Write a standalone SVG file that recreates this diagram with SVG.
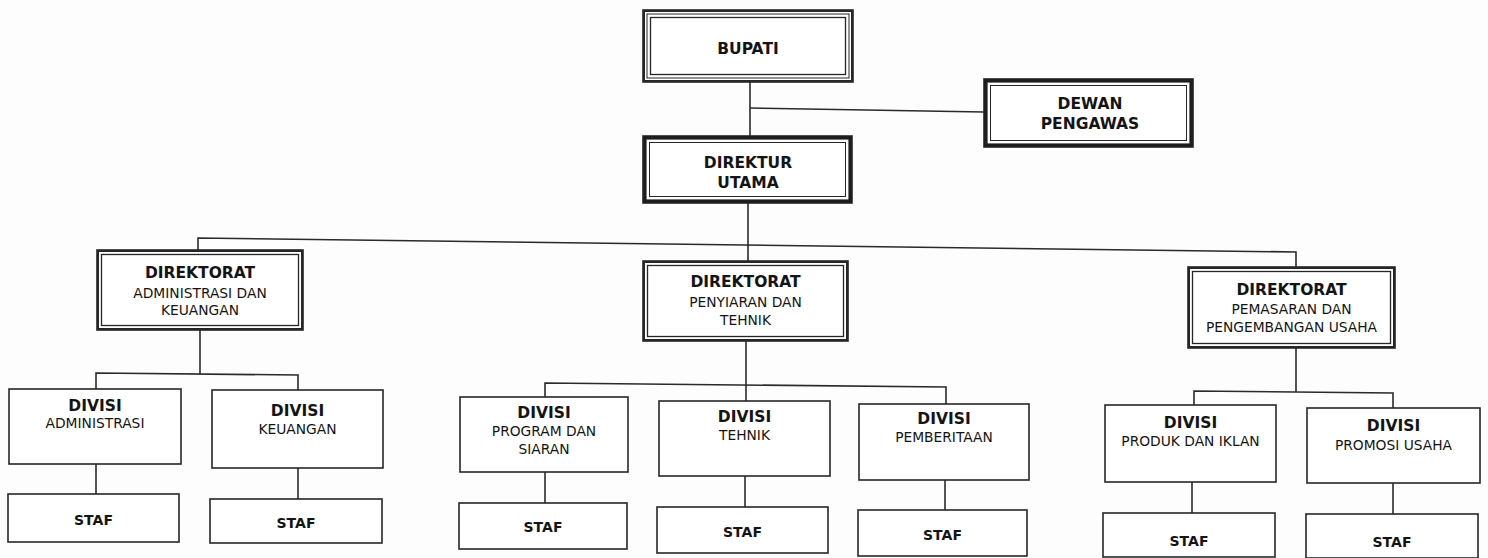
<svg xmlns="http://www.w3.org/2000/svg" width="1488" height="558" viewBox="0 0 1488 558">
<style>
.bg{fill:#fdfdfd}
.box{fill:#ffffff;stroke:#262626;stroke-width:1.6}
.thin{fill:none;stroke:#262626;stroke-width:1}
.med{fill:none;stroke:#262626;stroke-width:2}
.thick{fill:none;stroke:#1e1e1e;stroke-width:3.6}
.conn line,.conn polyline{stroke:#2a2a2a;stroke-width:1.6;fill:none}
text{font-family:"DejaVu Sans","Verdana",sans-serif;fill:#141414;text-anchor:middle}
.b{font-weight:bold;font-size:15.5px}
.r{font-size:13.8px}
.s{font-weight:bold;font-size:14px}
</style>
<rect class="bg" x="0" y="0" width="1488" height="558"/>
<g id="connectors" class="conn">
<line x1="750" y1="82" x2="750" y2="136"/>
<line x1="750" y1="108" x2="984" y2="112"/>
<line x1="748" y1="203" x2="748" y2="261"/>
<polyline points="198,250 198,238 1296,252 1296,267"/>
<line x1="200" y1="330" x2="200" y2="374"/>
<polyline points="96,389 96,373 298,375 298,390"/>
<line x1="96" y1="464" x2="96" y2="494"/>
<line x1="298" y1="468" x2="298" y2="499"/>
<line x1="746" y1="341" x2="746" y2="401"/>
<polyline points="545,397 545,383 946,387 946,404"/>
<line x1="545" y1="472" x2="545" y2="503"/>
<line x1="745" y1="476" x2="745" y2="507"/>
<line x1="945" y1="480" x2="945" y2="510"/>
<line x1="1296" y1="348" x2="1296" y2="392"/>
<polyline points="1194,405 1194,391 1393,393 1393,408"/>
<line x1="1192" y1="482" x2="1192" y2="513"/>
<line x1="1393" y1="483" x2="1393" y2="514"/>
</g>
<g id="bupati">
<rect class="box" x="643" y="10" width="210" height="72" stroke="none"/>
<rect class="med" x="644" y="11" width="208" height="70"/>
<rect class="thin" x="647" y="14" width="202" height="64"/>
<rect class="thin" x="650.5" y="17.5" width="195" height="57" style="stroke-width:1.3"/>
<text class="b" x="748" y="53.5">BUPATI</text>
</g>
<g id="dewan-pengawas">
<rect class="box" x="984" y="79" width="209" height="68" stroke="none"/>
<rect class="thick" x="985.8" y="80.8" width="205.4" height="64.4"/>
<rect class="thin" x="990.5" y="85.5" width="196" height="55"/>
<text class="b" x="1090" y="108.5">DEWAN</text>
<text class="b" x="1090" y="128.5">PENGAWAS</text>
</g>
<g id="direktur-utama">
<rect class="box" x="643" y="136" width="209" height="67" stroke="none"/>
<rect class="thick" x="644.8" y="137.8" width="205.4" height="63.4"/>
<rect class="thin" x="649.5" y="142.5" width="196" height="54"/>
<text class="b" x="748" y="167.5">DIREKTUR</text>
<text class="b" x="748" y="187.5">UTAMA</text>
</g>
<g id="direktorat-adm">
<rect class="box" x="97" y="250" width="206" height="80" stroke="none"/>
<rect class="med" x="98" y="251" width="204" height="78"/>
<rect class="thin" x="101.5" y="254.5" width="197" height="71" style="stroke-width:1.3"/>
<text class="b" x="200" y="278">DIREKTORAT</text>
<text class="r" x="200" y="298">ADMINISTRASI DAN</text>
<text class="r" x="200" y="315">KEUANGAN</text>
</g>
<g id="direktorat-penyiaran">
<rect class="box" x="643" y="261" width="205" height="80" stroke="none"/>
<rect class="med" x="644" y="262" width="203" height="78"/>
<rect class="thin" x="647.5" y="265.5" width="196" height="71" style="stroke-width:1.3"/>
<text class="b" x="745.5" y="287">DIREKTORAT</text>
<text class="r" x="745.5" y="307">PENYIARAN DAN</text>
<text class="r" x="745.5" y="325">TEHNIK</text>
</g>
<g id="direktorat-pemasaran">
<rect class="box" x="1188" y="267" width="207" height="81" stroke="none"/>
<rect class="med" x="1189" y="268" width="205" height="79"/>
<rect class="thin" x="1192.5" y="271.5" width="198" height="72" style="stroke-width:1.3"/>
<text class="b" x="1291.5" y="294.5">DIREKTORAT</text>
<text class="r" x="1291.5" y="314">PEMASARAN DAN</text>
<text class="r" x="1291.5" y="332">PENGEMBANGAN USAHA</text>
</g>
<g id="divisi-administrasi">
<rect class="box" x="9" y="389" width="172" height="75"/>
<text class="b" x="95" y="410.5">DIVISI</text>
<text class="r" x="95" y="428">ADMINISTRASI</text>
</g>
<g id="staf-administrasi">
<rect class="box" x="8" y="494" width="171" height="48"/>
<text class="s" x="93.5" y="525">STAF</text>
</g>
<g id="divisi-keuangan">
<rect class="box" x="212" y="390" width="171" height="78"/>
<text class="b" x="297.5" y="415.5">DIVISI</text>
<text class="r" x="297.5" y="434">KEUANGAN</text>
</g>
<g id="staf-keuangan">
<rect class="box" x="210" y="499" width="172" height="44"/>
<text class="s" x="296" y="528">STAF</text>
</g>
<g id="divisi-program">
<rect class="box" x="460" y="397" width="168" height="75"/>
<text class="b" x="544" y="418">DIVISI</text>
<text class="r" x="544" y="436">PROGRAM DAN</text>
<text class="r" x="544" y="454">SIARAN</text>
</g>
<g id="staf-program">
<rect class="box" x="459" y="503" width="168" height="46"/>
<text class="s" x="543" y="532">STAF</text>
</g>
<g id="divisi-tehnik">
<rect class="box" x="659" y="401" width="171" height="75"/>
<text class="b" x="744.5" y="422">DIVISI</text>
<text class="r" x="744.5" y="440">TEHNIK</text>
</g>
<g id="staf-tehnik">
<rect class="box" x="657" y="507" width="171" height="46"/>
<text class="s" x="742.5" y="537">STAF</text>
</g>
<g id="divisi-pemberitaan">
<rect class="box" x="859" y="404" width="170" height="76"/>
<text class="b" x="944" y="424">DIVISI</text>
<text class="r" x="944" y="442">PEMBERITAAN</text>
</g>
<g id="staf-pemberitaan">
<rect class="box" x="858" y="510" width="169" height="46"/>
<text class="s" x="942.5" y="540">STAF</text>
</g>
<g id="divisi-produk">
<rect class="box" x="1105" y="405" width="171" height="77"/>
<text class="b" x="1190.5" y="427.5">DIVISI</text>
<text class="r" x="1190.5" y="445.5">PRODUK DAN IKLAN</text>
</g>
<g id="staf-produk">
<rect class="box" x="1103" y="513" width="172" height="44"/>
<text class="s" x="1189" y="545.5">STAF</text>
</g>
<g id="divisi-promosi">
<rect class="box" x="1307" y="408" width="173" height="75"/>
<text class="b" x="1393.5" y="430.5">DIVISI</text>
<text class="r" x="1393.5" y="450">PROMOSI USAHA</text>
</g>
<g id="staf-promosi">
<rect class="box" x="1306" y="514" width="172" height="44"/>
<text class="s" x="1392" y="547">STAF</text>
</g>
</svg>
